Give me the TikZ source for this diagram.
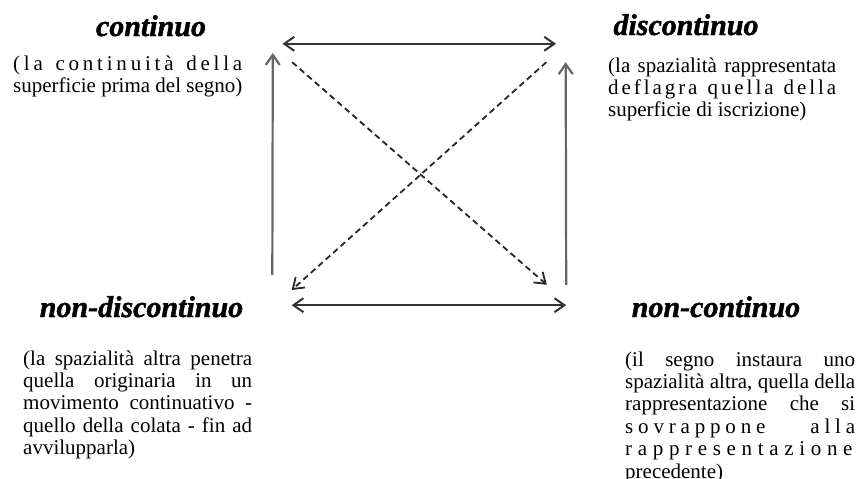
\documentclass[tikz,border=0pt]{standalone}
\usepackage{fontspec}
\setmainfont{Liberation Serif}
\usetikzlibrary{arrows.meta, positioning}

% one justified line of a gloss, and letter spacing for the spread ones
\newlength{\glw}
\newcommand{\fullline}[1]{\makebox[\glw][s]{#1}}
\newcommand{\spaced}[2]{{\addfontfeature{LetterSpace=#1}#2}}

\begin{document}
\begin{tikzpicture}[x=1pt, y=-1pt,
    term/.style={font=\fontsize{30}{34}\selectfont\bfseries\itshape\addfontfeature{FakeBold=1.4}, anchor=base, inner sep=0pt},
    gloss/.style={font=\fontsize{21}{22.4}\selectfont, align=justify, anchor=base west, inner sep=0pt,
        text width=#1+20pt, execute at begin node={\setlength{\glw}{#1}}},
    corner/.style={rectangle, inner sep=0pt, minimum width=19pt, minimum height=18pt},
    rel/.style={{Straight Barb[length=10pt, width=14pt]}-{Straight Barb[length=10pt, width=14pt]}, line width=2pt, black!80},
    impl/.style={-{Straight Barb[length=10pt, width=14pt]}, line width=2.2pt, black!60},
    contr/.style={-{Straight Barb[length=10pt, width=14pt]}, line width=1.8pt, black!85, dash pattern=on 6pt off 4pt}
]
\useasboundingbox (0,0) rectangle (860,479);

% the four terms
\node[term] (cont)  at (151,36)    {continuo};
\node[term] (disc)  at (686,35)    {discontinuo};
\node[term] (ndisc) at (141.5,317) {non-discontinuo};
\node[term] (ncont) at (716,317)   {non-continuo};

% glosses
\node[gloss=229pt] (contgl) at (13,70)
    {\fullline{\spaced{18}{(la continuità della}}\\
     superficie prima del segno)};
\node[gloss=228pt] (discgl) at (608,72)
    {\fullline{(la spazialità rappresentata}\\
     \fullline{\spaced{14}{deflagra quella della}}\\
     superficie di iscrizione)};
\node[gloss=229pt] (ndiscgl) at (23,365)
    {\fullline{(la spazialità altra penetra}\\
     \fullline{quella originaria in un}\\
     \fullline{movimento continuativo -}\\
     \fullline{quello della colata - fin ad}\\
     avvilupparla)};
\node[gloss=230pt] (ncontgl) at (625,366)
    {\fullline{(il segno instaura uno}\\
     \fullline{spazialità altra, quella della}\\
     \fullline{rappresentazione che si}\\
     \fullline{\spaced{23}{sovrappone alla}}\\
     \fullline{\spaced{27}{rappresentazione}}\\
     precedente)};

% corners of the square
\node[corner] (sqC)  at (282.5,53) {};
\node[corner] (sqD)  at (556,53) {};
\node[corner, minimum height=30pt] (sqND) at (282,290) {};
\node[corner, minimum height=20pt] (sqNC) at (556.5,295) {};

\draw[rel]   (sqC.north) -- (sqD.north);
\draw[rel]   (sqND.south east) -- (sqNC.south east);
\draw[impl]  (sqND.north west) -- (sqC.west);
\draw[impl]  (sqNC.north east) -- (sqD.south east);
\draw[contr] (sqC.south east) -- (sqNC.north west);
\draw[contr] (sqD.south west) -- (sqND.east);
\end{tikzpicture}
\end{document}
